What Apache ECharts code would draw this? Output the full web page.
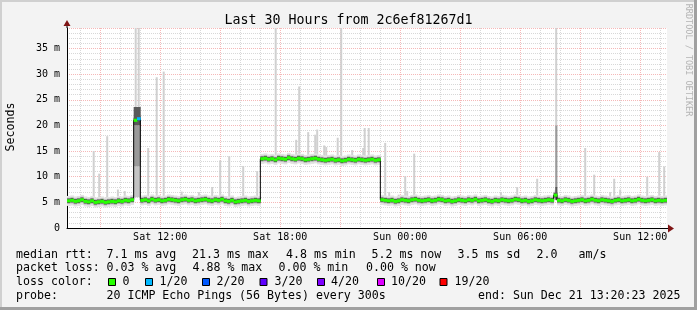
<!DOCTYPE html>
<html><head><meta charset="utf-8">
<script src="https://cdn.jsdelivr.net/npm/echarts@6/dist/echarts.min.js"></script>
<style>html,body{margin:0;padding:0;background:#f3f3f3}#c{width:697px;height:310px}</style>
</head><body><div id="c"></div>
<script>
// ---------------- data ----------------
const chartTitle = 'Last 30 Hours from 2c6ef81267d1';
const startHour = 7.3397;   // hours since Sat 00:00  (Sat 07:20:23)
const endHour = 37.3397;    // Sun 13:20:23
const medianStepHours = 1 / 6;
// median rtt (ms), one value per 10 minutes
const median = [
  5.3, 5.4, 5.2, 5.3, 5.5, 5.2, 5.1, 5.3, 5.0, 5.1,
  5.2, 5.0, 5.1, 5.2, 5.1, 5.3, 5.2, 5.4, 5.3, 5.5,
  21.0, 21.3,
  5.4, 5.5, 5.3, 5.6, 5.4, 5.5, 5.3, 5.4, 5.6, 5.5,
  5.4, 5.3, 5.5, 5.6, 5.4, 5.5, 5.3, 5.4, 5.5, 5.6,
  5.4, 5.3, 5.5, 5.4, 5.6, 5.3, 5.2, 5.4, 5.1, 5.2,
  5.3, 5.4, 5.2, 5.3, 5.4, 5.3,
  13.5, 13.6, 13.4, 13.5, 13.3, 13.6, 13.5, 13.4, 13.7, 13.5,
  13.4, 13.6, 13.5, 13.3, 13.4, 13.5, 13.6, 13.4, 13.3, 13.2,
  13.3, 13.4, 13.2, 13.3, 13.1, 13.2, 13.4, 13.3, 13.2, 13.4,
  13.3, 13.2, 13.3, 13.4, 13.2, 13.3,
  5.5, 5.4, 5.3, 5.4, 5.2, 5.3, 5.5, 5.4, 5.3, 5.5,
  5.6, 5.4, 5.3, 5.4, 5.5, 5.3, 5.4, 5.6, 5.5, 5.3,
  5.4, 5.2, 5.3, 5.5, 5.4, 5.3, 5.5, 5.4, 5.6, 5.3,
  5.4, 5.5, 5.3, 5.2, 5.4, 5.3, 5.5, 5.4, 5.3, 5.4,
  5.6, 5.5, 5.3, 5.4, 5.2, 5.3, 5.5, 5.4, 5.3, 5.4,
  5.5, 5.4,
  6.4,
  5.4, 5.3, 5.5, 5.4, 5.2, 5.3, 5.4, 5.5, 5.3, 5.4,
  5.6, 5.4, 5.3, 5.5, 5.4, 5.3, 5.2, 5.4, 5.5, 5.3,
  5.4, 5.5, 5.3, 5.4, 5.6, 5.4, 5.3, 5.4, 5.5, 5.3,
  5.4, 5.3, 5.4
];
// [interval index, lost pings out of 20]
const lossSteps = [[21, 1]];
// light smoke spikes: [hour, low ms, high ms]
const spikes = [
  [8.665, 5.8, 15.0], [8.94, 5.8, 10.6], [9.34, 5.8, 17.9], [9.875, 5.8, 7.5],
  [10.215, 5.8, 7.2], [10.765, 23, 39], [10.915, 23, 39], [11.39, 5.8, 15.6],
  [11.815, 5.8, 29.4], [12.165, 5.8, 30.5], [13.065, 5.8, 7.1], [13.925, 5.8, 7.0],
  [14.59, 5.8, 8.0], [14.99, 5.8, 13.2], [15.44, 5.8, 14.0], [16.14, 5.8, 12.1],
  [16.84, 5.8, 11.1], [17.765, 14, 39], [18.79, 14, 17.2], [18.94, 14, 27.6],
  [19.39, 14, 18.7], [19.74, 14, 18.2], [19.84, 14, 19.2], [20.19, 14, 16.1],
  [20.29, 14, 15.8], [20.865, 14, 17.6], [21.04, 14, 39], [21.59, 14, 15.2],
  [22.14, 14, 15.6], [22.215, 14, 19.5], [22.415, 14, 19.5], [23.24, 5.8, 16.6],
  [23.44, 5.8, 7.0], [23.915, 5.8, 6.5], [24.24, 5.8, 10.1], [24.34, 5.8, 7.2],
  [24.69, 5.8, 14.5], [29.025, 5.8, 7.0], [29.84, 5.8, 8.0], [30.84, 5.8, 9.6],
  [31.19, 5.8, 6.3], [31.79, 20, 39], [33.24, 5.8, 15.6], [33.69, 5.8, 10.4],
  [34.49, 5.8, 7.0], [34.69, 5.8, 9.6], [34.99, 5.8, 7.5], [35.29, 5.8, 6.3],
  [36.34, 5.8, 10.0], [36.94, 5.8, 14.8], [37.19, 5.8, 12.0]
];
// dense smoke blocks: [hour start, hour end, low ms, high ms]
const paleSmoke = [[10.673, 11.006, 6.0, 12.0]];
const midSmoke = [[10.673, 11.006, 12.0, 20.0], [31.75, 31.84, 8.0, 20.0]];
const darkSmoke = [[10.673, 11.006, 20.0, 23.6], [31.75, 31.84, 5.5, 8.0]];

const xLabelHours = [12, 18, 24, 30, 36];
const xLabelTexts = ['Sat 12:00', 'Sat 18:00', 'Sun 00:00', 'Sun 06:00', 'Sun 12:00'];
const majorGridHours = [9, 12, 15, 18, 21, 24, 27, 30, 33, 36];
const minorGridHours = [8, 9, 10, 11, 12, 13, 14, 15, 16, 17, 18, 19, 20, 21, 22, 23, 24, 25, 26, 27, 28, 29, 30, 31, 32, 33, 34, 35, 36, 37];
const yMin = 0, yMax = 39, yMajorStep = 5, yMinorStep = 1;

const lossColors = ['#26ff00', '#00b8ff', '#0059ff', '#5e00ff', '#7e00ff', '#dd00ff', '#ff0000'];
const lossLabels = ['0', '1/20', '2/20', '3/20', '4/20', '10/20', '19/20'];
const statLine1 = ['median rtt:', '7.1 ms avg', '21.3 ms max', '4.8 ms min', '5.2 ms now', '3.5 ms sd', '2.0', 'am/s'];
const statLine2 = ['packet loss:', '0.03 % avg', '4.88 % max', '0.00 % min', '0.00 % now'];
const probeLine = ['probe:', '20 ICMP Echo Pings (56 Bytes) every 300s', 'end: Sun Dec 21 13:20:23 2025'];

// ---------------- layout / style ----------------
const MONO = "'DejaVu Sans Mono', monospace";
const line1X = [16, 106.5, 192, 286, 371.5, 457.5, 536.5, 578.5];
const line2X = [16, 106.5, 192.5, 278.5, 366];
const line4X = [16, 106.5, 478];
const boxX = [108.5, 145.5, 202.5, 260, 317.5, 377.5, 440];
const boxLabelX = [122.5, 159.5, 216.5, 274.5, 331, 391, 454.5];

const chart = echarts.init(document.getElementById('c'), null, {renderer: 'canvas'});

const intervals = median.map((v, i) => [startHour + i * medianStepHours, startHour + (i + 1) * medianStepHours, v, i]);
const medianLine = median.map((v, i) => [startHour + i * medianStepHours, v]);
medianLine.push([endHour, median[median.length - 1]]);
const lossByIndex = {};
lossSteps.forEach(([i, n]) => { lossByIndex[i] = n; });
function lossColor(n) {
  if (!n) return lossColors[0];
  if (n <= 1) return lossColors[1];
  if (n <= 2) return lossColors[2];
  if (n <= 3) return lossColors[3];
  if (n <= 4) return lossColors[4];
  if (n <= 10) return lossColors[5];
  return lossColors[6];
}

function band(api, t0, t1, lo, hi, fill) {
  const a = api.coord([t0, hi]);
  const b = api.coord([t1, lo]);
  return {type: 'rect', shape: {x: a[0], y: a[1], width: b[0] - a[0] + 0.4, height: b[1] - a[1]}, style: {fill: fill}};
}
function blockSeries(data, color, z) {
  return {
    type: 'custom', z: z, clip: true, silent: true, data: data,
    encode: {x: [0, 1], y: [2, 3]},
    renderItem: (p, api) => band(api, api.value(0), api.value(1), api.value(2), api.value(3), color)
  };
}

const graphics = [];
// frame
graphics.push({type: 'rect', shape: {x: 0, y: 0, width: 697, height: 2}, style: {fill: '#d0d0d0'}, z: 100});
graphics.push({type: 'rect', shape: {x: 0, y: 0, width: 2, height: 310}, style: {fill: '#d0d0d0'}, z: 100});
graphics.push({type: 'rect', shape: {x: 0, y: 307, width: 697, height: 3}, style: {fill: '#a0a0a0'}, z: 100});
graphics.push({type: 'rect', shape: {x: 694, y: 0, width: 3, height: 310}, style: {fill: '#a0a0a0'}, z: 100});
// title
graphics.push({type: 'text', x: 348.5, y: 20.5, style: {text: chartTitle, font: '13.3px ' + MONO, fill: '#000', align: 'center', verticalAlign: 'middle'}});
// y axis title
graphics.push({type: 'text', x: 10.5, y: 127, rotation: Math.PI / 2, style: {text: 'Seconds', font: '11.6px ' + MONO, fill: '#000', align: 'center', verticalAlign: 'middle'}});
// watermark
graphics.push({type: 'text', x: 688, y: 60, rotation: -Math.PI / 2, style: {text: 'RRDTOOL / TOBI OETIKER', font: '8.5px ' + MONO, fill: '#b4b4b4', align: 'center', verticalAlign: 'middle'}});
// axis arrows
graphics.push({type: 'line', shape: {x1: 67, y1: 28, x2: 67, y2: 24}, style: {stroke: '#000', lineWidth: 1}});
graphics.push({type: 'polygon', shape: {points: [[63.5, 26], [70.5, 26], [67, 20]]}, style: {fill: '#7f1515'}, z: 50});
graphics.push({type: 'line', shape: {x1: 667, y1: 228.5, x2: 669, y2: 228.5}, style: {stroke: '#000', lineWidth: 1}});
graphics.push({type: 'polygon', shape: {points: [[668, 224.5], [668, 232.5], [674, 228.5]]}, style: {fill: '#7f1515'}, z: 50});
// legend text
function addText(s, x, y) {
  graphics.push({type: 'text', x: x, y: y, style: {text: s, font: '11.6px ' + MONO, fill: '#000', align: 'left', verticalAlign: 'middle'}});
}
statLine1.forEach((s, i) => addText(s, line1X[i], 254.5));
statLine2.forEach((s, i) => addText(s, line2X[i], 268.3));
addText('loss color:', 16, 282.1);
lossLabels.forEach((s, i) => {
  graphics.push({type: 'rect', shape: {x: boxX[i], y: 278.5, width: 7, height: 7}, style: {fill: lossColors[i], stroke: '#000', lineWidth: 1}});
  addText(s, boxLabelX[i], 282.1);
});
probeLine.forEach((s, i) => addText(s, line4X[i], 295.9));

const option = {
  backgroundColor: '#f3f3f3',
  animation: false,
  grid: {left: 67, right: 30, top: 28, bottom: 82, show: true, backgroundColor: '#ffffff', borderWidth: 0},
  xAxis: [
    {
      type: 'value', min: startHour, max: endHour, z: 1,
      axisLine: {show: true, onZero: false, lineStyle: {color: '#000', width: 1}},
      axisTick: {show: false, customValues: majorGridHours},
      splitLine: {show: true, lineStyle: {color: '#f5b8b8', type: [1, 1], width: 1}},
      axisLabel: {customValues: xLabelHours, formatter: v => xLabelTexts[xLabelHours.indexOf(Math.round(v))] || '',
        fontFamily: MONO, fontSize: 10, color: '#000', margin: 4}
    },
    {
      type: 'value', min: startHour, max: endHour, z: 0,
      axisLine: {show: false}, axisLabel: {show: false},
      axisTick: {show: false, customValues: minorGridHours},
      splitLine: {show: true, lineStyle: {color: '#d8d8d8', type: [1, 1], width: 1}}
    }
  ],
  yAxis: [
    {
      type: 'value', min: yMin, max: yMax, interval: yMajorStep, z: 1,
      axisLine: {show: true, onZero: false, lineStyle: {color: '#000', width: 1}},
      axisTick: {show: false},
      splitLine: {show: true, lineStyle: {color: '#f5b8b8', type: [1, 1], width: 1}},
      axisLabel: {showMaxLabel: false, formatter: v => v === 0 ? '0' : v + ' m', fontFamily: MONO, fontSize: 10, color: '#000', margin: 7}
    },
    {
      type: 'value', min: yMin, max: yMax, interval: yMinorStep, z: 0,
      axisLine: {show: false}, axisLabel: {show: false}, axisTick: {show: false},
      splitLine: {show: true, lineStyle: {color: '#d8d8d8', type: [1, 1], width: 1}}
    }
  ],
  series: [
    {
      type: 'custom', z: 2, clip: true, silent: true, data: spikes, encode: {x: 0, y: [1, 2]},
      renderItem: (p, api) => band(api, api.value(0) - 0.04, api.value(0) + 0.04, api.value(1), api.value(2), '#d0d0d0')
    },
    {
      type: 'custom', z: 3, clip: true, silent: true, data: intervals, encode: {x: [0, 1], y: 2},
      renderItem: (p, api) => {
        const t0 = api.value(0), t1 = api.value(1), m = api.value(2);
        return {type: 'group', children: [
          band(api, t0, t1, m - 1.0, m + 0.95, '#e2e2e2'),
          band(api, t0, t1, m - 0.6, m + 0.6, '#b4b4b4'),
          band(api, t0, t1, m - 0.42, m + 0.45, '#555555')
        ]};
      }
    },
    blockSeries(paleSmoke, '#c4c4c4', 3),
    blockSeries(midSmoke, '#9a9a9a', 3),
    blockSeries(darkSmoke, '#5a5a5a', 3),
    {
      type: 'line', z: 4, silent: true, data: medianLine, step: 'end', symbol: 'none',
      lineStyle: {color: '#000', width: 1}
    },
    {
      type: 'custom', z: 5, clip: true, silent: true, data: intervals, encode: {x: [0, 1], y: 2},
      renderItem: (p, api) => band(api, api.value(0), api.value(1), api.value(2) - 0.3, api.value(2) + 0.3,
        lossColor(lossByIndex[api.value(3)]))
    }
  ],
  graphic: graphics
};
chart.setOption(option);
</script>
</body></html>
